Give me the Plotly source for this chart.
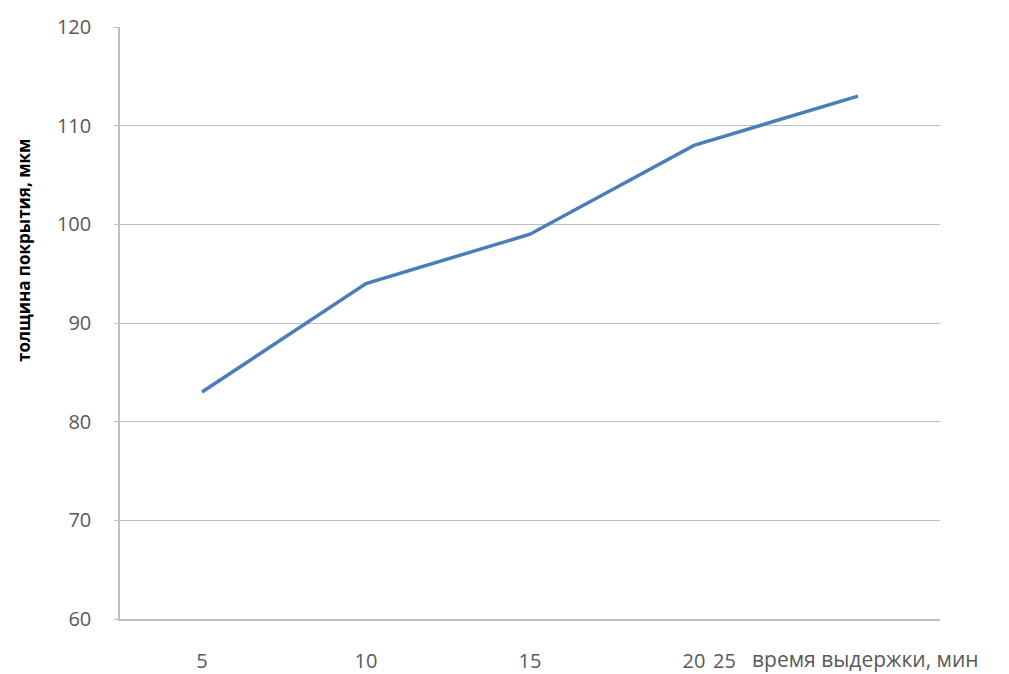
import plotly.graph_objects as go

# Время выдержки (мин) и толщина покрытия (мкм)
categories = ["5", "10", "15", "20", "25"]
thickness = [83, 94, 99, 108, 113]
y_ticks = [60, 70, 80, 90, 100, 110, 120]
x_tick_labels = ["5", "10", "15", "20", ""]

grid = "#bfbfbf"
label_color = "#595959"
font_family = "Open Sans, Liberation Sans, sans-serif"

L, R, T, B = 120, 69, 27, 55
W, H = 1009, 674
plot_w = W - L - R
plot_h = H - T - B

fig = go.Figure()
fig.add_trace(go.Scatter(
    x=categories, y=thickness, mode="lines",
    line=dict(color="#4a7ebb", width=3.5),
    hoverinfo="skip", showlegend=False,
))

fig.update_layout(
    width=W, height=H,
    margin=dict(l=L, r=R, t=T, b=B, autoexpand=False),
    paper_bgcolor="white", plot_bgcolor="white",
    font=dict(family=font_family, size=20, color=label_color),
    xaxis=dict(
        type="category", range=[-0.5, 4.5],
        tickvals=categories, ticktext=x_tick_labels,
        showgrid=False, zeroline=False, automargin=False,
        showline=True, linecolor=grid, linewidth=1.5,
        ticks="", ticklabelstandoff=23,
    ),
    yaxis=dict(
        range=[60, 120], tickvals=y_ticks, automargin=False,
        showgrid=True, gridcolor=grid, gridwidth=1.2,
        zeroline=False, showline=True, linecolor=grid, linewidth=1.5,
        ticks="outside", ticklen=4, tickcolor=grid, tickwidth=1.2,
        ticklabelstandoff=19,
    ),
    annotations=[
        # метка «25» стоит вплотную к «20», за ней подпись оси X
        dict(text="25",
             x=(711 - L) / plot_w, y=(619 - 660) / plot_h,
             xref="paper", yref="paper", xanchor="left", yanchor="middle",
             showarrow=False, font=dict(size=20, color=label_color)),
        dict(text="время выдержки, мин",
             x=(750 - L) / plot_w, y=(619 - 659) / plot_h,
             xref="paper", yref="paper", xanchor="left", yanchor="middle",
             showarrow=False, font=dict(size=21, color=label_color)),
        dict(text="<b>толщина покрытия, мкм</b>", textangle=-90,
             x=(23 - L) / plot_w, y=(619 - 251) / plot_h,
             xref="paper", yref="paper", xanchor="center", yanchor="middle",
             showarrow=False, font=dict(size=17, color="#000000")),
    ],
)

fig.write_html("out.html")
